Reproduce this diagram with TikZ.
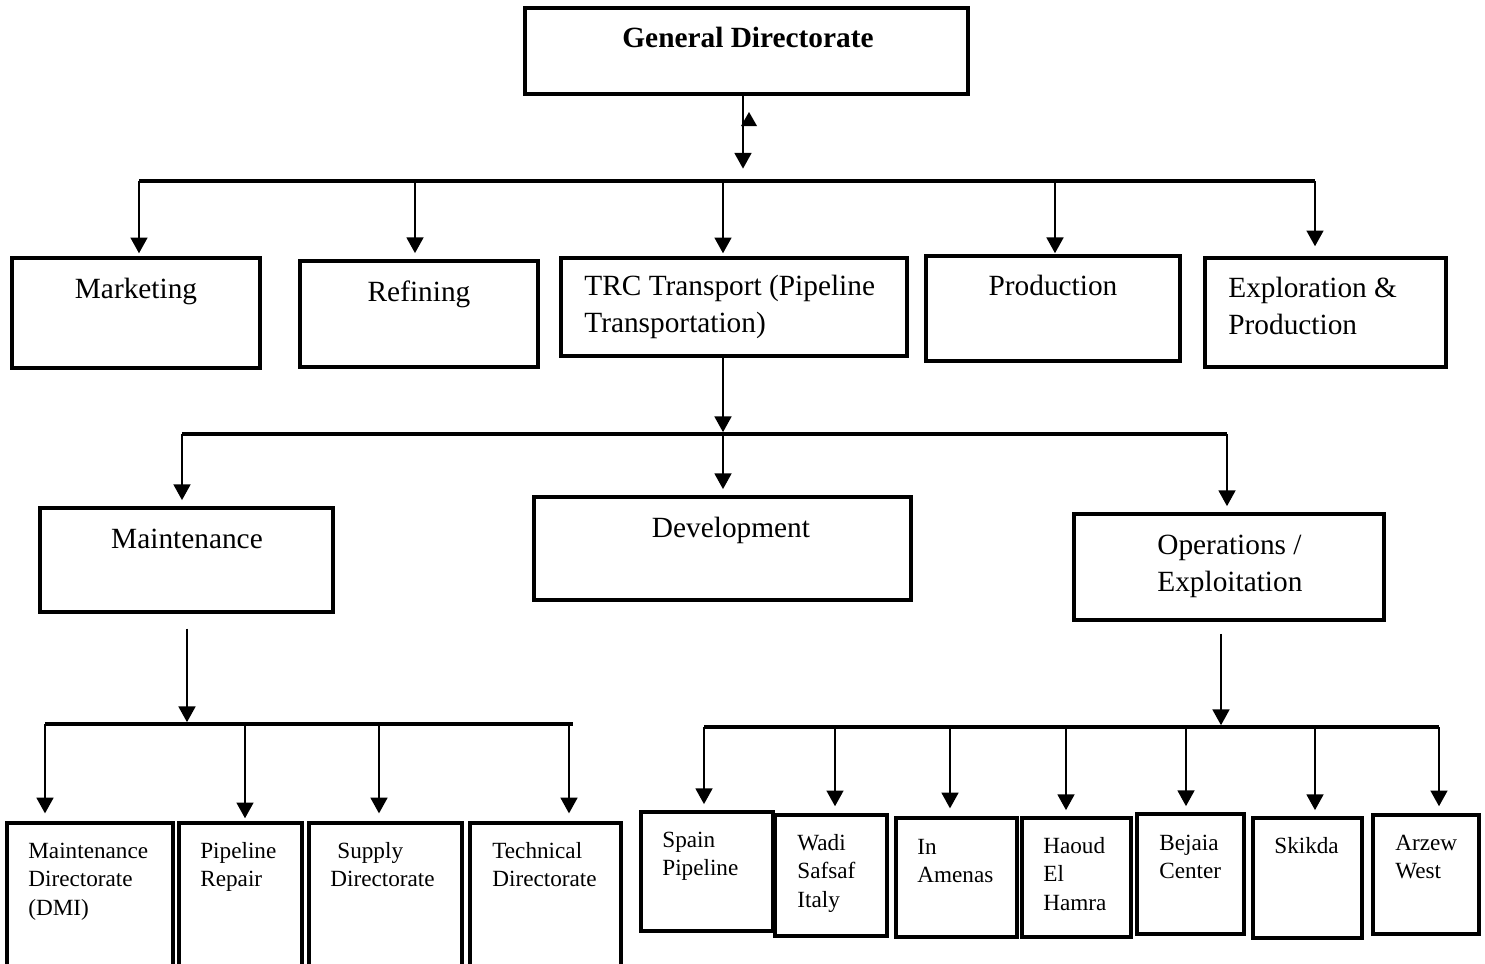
\documentclass[tikz,border=0pt]{standalone}
\usepackage{fontspec}
\setmainfont{Liberation Serif}
\usetikzlibrary{arrows.meta,fit}

\tikzset{
  box/.style={draw, line width=1.9pt, inner sep=0pt},
  bus/.style={line width=1.8pt},
  down/.style={line width=1.5pt, -{Triangle[width=9.5pt,length=9pt]}, shorten >=3.5pt},
  big/.style={font=\fontsize{16.7}{20.5}\selectfont, inner sep=0pt, align=left},
  small/.style={font=\fontsize{13.2}{16.2}\selectfont, inner sep=0pt, align=left},
}

\begin{document}
\begin{tikzpicture}[x=0.02cm, y=-0.02cm]
\useasboundingbox (0,0) rectangle (1485,964);
\clip (0,0) rectangle (1485,964);

% top
\node[box, fit={(525,8) (968,94)}] (gd) {};
\node[big, anchor=base] (gdT) at (748,47) {\bfseries General Directorate};

% first level
\node[box, fit={(12,258) (260,368)}] (mkt) {};
\node[box, fit={(300,261) (538,367)}] (ref) {};
\node[box, fit={(561,258) (907,356)}] (trc) {};
\node[box, fit={(926,256) (1180,361)}] (prod) {};
\node[box, fit={(1205,258) (1446,367)}] (expl) {};
\node[big, anchor=base] (mktT) at (136,298) {Marketing};
\node[big, anchor=base] (refT) at (419,301) {Refining};
\node[big, anchor=base west] (trcT) at (584,332) {TRC Transport (Pipeline\\Transportation)};
\node[big, anchor=base] (prodT) at (1053,295) {Production};
\node[big, anchor=base west] (explT) at (1228,334) {Exploration \&\\Production};

\coordinate (busAw) at (139,181);
\coordinate (busAe) at (1315,181);
\draw[down, shorten >=7pt] (743,0 |- gd.south) -- (743,0 |- busAw);
\fill (741,126) -- (749,112) -- (757,126) -- cycle;
\draw[bus] (busAw) -- (busAe);
\draw[down, shorten >=1.7pt] (busAw) -- (busAw |- mkt.north);
\draw[down] (415,0 |- busAw) -- (415,0 |- ref.north);
\draw[down, shorten >=1.7pt] (723,0 |- busAw) -- (723,0 |- trc.north);
\draw[down, shorten >=0.6pt] (1055,0 |- busAw) -- (1055,0 |- prod.north);
\draw[down, shorten >=5.7pt] (busAe) -- (busAe |- expl.north);

% second level
\node[box, fit={(40,508) (333,612)}] (mnt) {};
\node[box, fit={(534,497) (911,600)}] (dev) {};
\node[box, fit={(1074,514) (1384,620)}] (ops) {};
\node[big, anchor=base] (mntT) at (187,548) {Maintenance};
\node[big, anchor=base] (devT) at (731,537) {Development};
\node[big, anchor=base west] (opsT) at (1157,591) {Operations /\\Exploitation};

\coordinate (busBw) at (182,434);
\coordinate (busBe) at (1227,434);
\draw[down, shorten >=1pt] (723,0 |- trc.south) -- (723,0 |- busBw);
\draw[bus] (busBw) -- (busBe);
\draw[down] (busBw) -- (busBw |- mnt.north);
\draw[down] (723,0 |- busBw) -- (723,0 |- dev.north);
\draw[down] (busBe) -- (busBe |- ops.north);

% maintenance units
\node[box, fit={(7,823) (173,990)}] (dmi) {};
\node[box, fit={(179,823) (302,990)}] (rep) {};
\node[box, fit={(309,823) (462,990)}] (sup) {};
\node[box, fit={(470,823) (621,990)}] (tec) {};
\node[small, anchor=base west] (dmiT) at (28,915) {Maintenance\\Directorate\\(DMI)};
\node[small, anchor=base west] (repT) at (200,886.5) {Pipeline\\Repair};
\node[small, anchor=base west] (supT) at (330,886.5) {\hspace{4pt}Supply\\Directorate};
\node[small, anchor=base west] (tecT) at (492,886.5) {Technical\\Directorate};

\coordinate (busCw) at (45,724);
\coordinate (busCe) at (573,724);
\draw[down, shorten <=8.5pt, shorten >=1pt] (187,0 |- mnt.south) -- (187,0 |- busCw);
\draw[bus] (busCw) -- (busCe);
\draw[down, shorten >=4.5pt] (busCw) -- (busCw |- dmi.north);
\draw[down, shorten >=1.7pt] (245,0 |- busCw) -- (245,0 |- rep.north);
\draw[down, shorten >=4.5pt] (379,0 |- busCw) -- (379,0 |- sup.north);
\draw[down, shorten >=4.5pt] (569,0 |- busCw) -- (569,0 |- tec.north);

% operations units
\node[box, fit={(641,812) (773,931)}] (spa) {};
\node[box, fit={(775,815) (887,936)}] (wad) {};
\node[box, fit={(896,818) (1017,937)}] (ina) {};
\node[box, fit={(1022,818) (1131,937)}] (hao) {};
\node[box, fit={(1137,814) (1244,934)}] (bej) {};
\node[box, fit={(1253,818) (1362,938)}] (ski) {};
\node[box, fit={(1373,815) (1479,934)}] (arz) {};
\node[small, anchor=base west] (spaT) at (662,875.5) {Spain\\Pipeline};
\node[small, anchor=base west] (wadT) at (797,907) {Wadi\\Safsaf\\Italy};
\node[small, anchor=base west] (inaT) at (917,882.5) {In\\Amenas};
\node[small, anchor=base west] (haoT) at (1043,910) {Haoud\\El\\Hamra};
\node[small, anchor=base west] (bejT) at (1159,878.5) {Bejaia\\Center};
\node[small, anchor=base west] (skiT) at (1274,853) {Skikda};
\node[small, anchor=base west] (arzT) at (1395,878.5) {Arzew\\West};

\coordinate (busDw) at (704,727);
\coordinate (busDe) at (1439,727);
\draw[down, shorten <=7pt, shorten >=1pt] (1221,0 |- ops.south) -- (1221,0 |- busDw);
\draw[bus] (busDw) -- (busDe);
\draw[down] (busDw) -- (busDw |- spa.north);
\draw[down, shorten >=4pt] (835,0 |- busDw) -- (835,0 |- wad.north);
\draw[down, shorten >=4.5pt] (950,0 |- busDw) -- (950,0 |- ina.north);
\draw[down] (1066,0 |- busDw) -- (1066,0 |- hao.north);
\draw[down] (1186,0 |- busDw) -- (1186,0 |- bej.north);
\draw[down] (1315,0 |- busDw) -- (1315,0 |- ski.north);
\draw[down, shorten >=4pt] (busDe) -- (busDe |- arz.north);

\end{tikzpicture}
\end{document}
